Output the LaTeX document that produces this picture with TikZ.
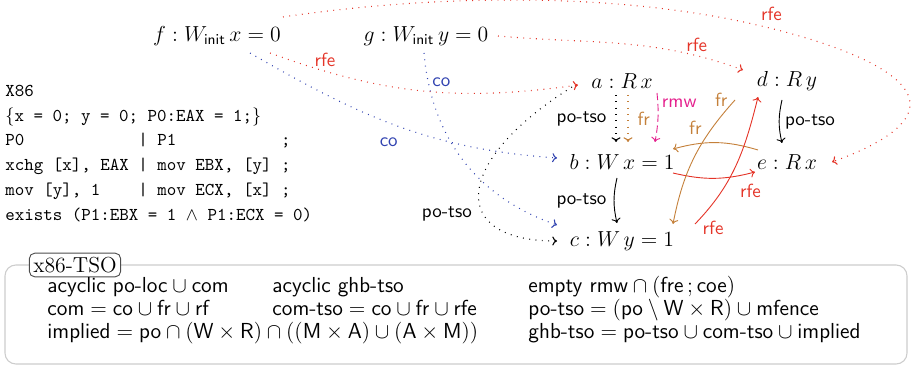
\documentclass[tikz,border=0pt]{standalone}
\usepackage{amssymb}
\usetikzlibrary{arrows.meta}
\definecolor{rfec}{RGB}{228,52,40}
\definecolor{frc}{RGB}{196,128,58}
\definecolor{rmwc}{RGB}{228,30,140}
\definecolor{coc}{RGB}{48,66,176}
\definecolor{boxc}{RGB}{205,205,205}
\begin{document}
\begin{tikzpicture}[x=0.5525pt,y=0.5525pt,
  >={To[length=2.6pt,width=5pt]},
  ev/.style={inner sep=2pt, font=\large},
  lab/.style={font=\sffamily\fontsize{10.5}{12}\selectfont, inner sep=2pt},
  dotl/.style={line width=0.6pt, dash pattern=on 0.5pt off 3pt},
  erfe/.style={rfec, ->},
  efr/.style={frc, ->},
  eco/.style={coc, ->},
  ermw/.style={rmwc, ->, dash pattern=on 4pt off 2pt},
  epo/.style={black, ->},
  codeline/.style={anchor=base west, inner sep=0pt, font=\ttfamily\fontsize{10}{12}\selectfont},
  boxtext/.style={anchor=base west, inner sep=0pt, text height=8.5pt, text depth=2pt, font=\sffamily\fontsize{12}{14}\selectfont},
  line width=0.5pt
]
\useasboundingbox (0,0) rectangle (911,-368);

% events
\node[ev] (f) at (217,-36) {$f : W_{\mathsf{init}}\,x = 0$};
\node[ev] (g) at (426,-36) {$g : W_{\mathsf{init}}\,y = 0$};
\node[ev] (a) at (622,-81) {$a : R\,x$};
\node[ev] (d) at (787,-81) {$d : R\,y$};
\node[ev] (b) at (622,-162) {$b : W\,x = 1$};
\node[ev] (e) at (787,-162) {$e : R\,x$};
\node[ev] (c) at (622,-241) {$c : W\,y = 1$};

% code
\node[codeline] (l1) at (5,-97) {X86};
\node[codeline] (l2) at (5,-121.5) {$\{$x~=~0;~y~=~0;~P0:EAX~=~1;$\}$};
\node[codeline] (l3) at (5,-146) {P0~~~~~~~~~~~~|~P1~~~~~~~~~~~;};
\node[codeline] (l4) at (5,-171) {xchg~[x],~EAX~|~mov~EBX,~[y]~;};
\node[codeline] (l5) at (5,-196) {mov~[y],~1~~~~|~mov~ECX,~[x]~;};
\node[codeline] (l6) at (5,-221) {exists~(P1:EBX~=~1~$\wedge$~P1:ECX~=~0)};

% init edges
\draw[erfe, dotl] ([shift={(53,-17)}]f.center) to[out=-20,in=188]
  node[lab, pos=0.17, above] {rfe} ([shift={(-44,-4)}]a.center);
\draw[eco, dotl] ([shift={(33,-17)}]f.center) to[out=-30,in=176]
  node[lab, pos=0.47, below=6pt] {co} ([shift={(-65,4)}]b.center);
\draw[erfe, dotl] ([shift={(66,19)}]f.center) .. controls (431,5) and (611,9) .. (757,-25)
  node[lab, above right] {rfe}
  .. controls (874,-52) and (992,-104) .. ([shift={(45,0)}]e.center);
\draw[eco, dotl] ([shift={(-2,-17)}]g.center) to[out=-85,in=161]
  node[lab, pos=0.12, right] {co} ([shift={(-65,16)}]c.center);
\draw[erfe, dotl] ([shift={(72,0)}]g.center) to[out=-5,in=160]
  node[lab, pos=0.82, above] {rfe} ([shift={(-44,11)}]d.center);

% a -> c po-tso
\draw[epo, dotl] ([shift={(-50,-6)}]a.center) to[out=212,in=180,out distance=77pt,in distance=61pt]
  node[lab, pos=0.64, left=4pt] {po-tso} ([shift={(-65,0)}]c.center);

% a -> b
\draw[epo, dotl] ([shift={(-6,-14)}]a.center) --
  node[lab, left=3pt] {po-tso} ([shift={(-6,20)}]b.center);
\draw[efr, dotl] ([shift={(6,-14)}]a.center) --
  node[lab, right=3pt] {fr} ([shift={(6,20)}]b.center);
\draw[ermw] ([shift={(35,-12)}]a.center) to[bend left=8]
  node[lab, pos=0.2, right] {rmw} ([shift={(33,20)}]b.center);

% b -> c, d -> e
\draw[epo] ([shift={(-5,-16)}]b.center) to[bend right=13]
  node[lab, left=2pt] {po-tso} ([shift={(-5,18)}]c.center);
\draw[epo] ([shift={(-5,-19)}]d.center) to[bend right=13]
  node[lab, right=1pt] {po-tso} ([shift={(-5,19)}]e.center);

% middle
\draw[efr] ([shift={(-29,12)}]e.center) to[bend right=16]
  node[lab, pos=0.75, above=3pt] {fr} ([shift={(51,13)}]b.center);
\draw[erfe] ([shift={(51,-11)}]b.center) to[bend right=14]
  node[lab, pos=0.95, below=4pt] {rfe} ([shift={(-32,-10)}]e.center);
\draw[erfe] ([shift={(73,17)}]c.center) to[out=46,in=256]
  node[lab, pos=0, right=2pt, yshift=-2pt] {rfe} ([shift={(-29,-16)}]d.center);
\draw[efr] ([shift={(-52,-19)}]d.center) to[out=228,in=79]
  node[lab, pos=0, left=2pt] {fr} ([shift={(51,17)}]c.center);

% model box
\draw[boxc, rounded corners=6pt, line width=0.6pt] (5,-265) rectangle (907,-364);
\node[draw=black!70, fill=white, rounded corners=3pt, inner sep=2.2pt, font=\large] (tso) at (75,-265) {x86-TSO};

\node[boxtext] (r11) at (47,-292) {$\textsf{acyclic po-loc} \cup \textsf{com}$};
\node[boxtext] (r21) at (47,-315) {$\textsf{com} = \textsf{co} \cup \textsf{fr} \cup \textsf{rf}$};
\node[boxtext] (r31) at (47,-338) {$\textsf{implied} = \textsf{po} \cap (\textsf{W} \times \textsf{R}) \cap ((\textsf{M} \times \textsf{A}) \cup (\textsf{A} \times \textsf{M}))$};
\node[boxtext] (r12) at (272,-292) {$\textsf{acyclic ghb-tso}$};
\node[boxtext] (r22) at (272,-315) {$\textsf{com-tso} = \textsf{co} \cup \textsf{fr} \cup \textsf{rfe}$};
\node[boxtext] (r13) at (528,-292) {$\textsf{empty rmw} \cap (\textsf{fre}\,;\textsf{coe})$};
\node[boxtext] (r23) at (528,-315) {$\textsf{po-tso} = (\textsf{po} \setminus \textsf{W} \times \textsf{R}) \cup \textsf{mfence}$};
\node[boxtext] (r33) at (528,-338) {$\textsf{ghb-tso} = \textsf{po-tso} \cup \textsf{com-tso} \cup \textsf{implied}$};
\end{tikzpicture}
\end{document}
